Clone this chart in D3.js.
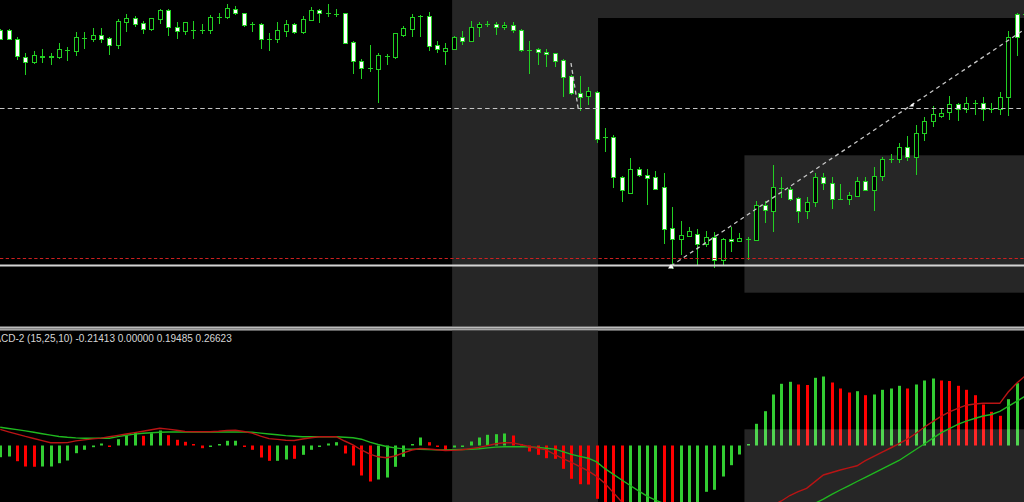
<!DOCTYPE html>
<html><head><meta charset="utf-8">
<script src="https://cdn.jsdelivr.net/npm/d3@7/dist/d3.min.js"></script>
<style>html,body{margin:0;padding:0;background:#000;overflow:hidden}</style>
</head><body>
<svg id="c" width="1024" height="502"></svg>
<script>
// ---------- DATA ----------
const opens = [110.70,110.70,110.61,110.43,110.38,110.43,110.43,110.43,110.50,110.49,
 110.625,110.61,110.65,110.62,110.55,110.78,110.82,110.77,110.71,110.81,
 110.90,110.73,110.69,110.70,110.70,110.70,110.835,110.83,110.91,110.87,
 110.76,110.76,110.61,110.61,110.69,110.76,110.68,110.80,110.90,110.87,
 110.865,110.87,110.58,110.39,110.32,110.31,110.44,110.43,110.65,110.71,
 110.84,110.84,110.55,110.49,110.51,110.63,110.59,110.73,110.76,110.76,
 110.73,110.75,110.70,110.50,110.51,110.48,110.47,110.40,110.24,110.07,
 110.04,110.08,109.63,109.63,109.23,109.07,109.31,109.25,109.23,109.13,
 108.72,108.61,108.64,108.66,108.56,108.63,108.40,108.61,108.59,108.61,
 108.60,108.95,108.89,109.12,109.11,109.02,108.89,108.98,109.23,109.17,
 109.01,109.01,109.04,109.19,109.10,109.24,109.41,109.41,109.53,109.43,
 109.67,109.79,109.84,109.88,109.96,109.91,109.97,109.97,109.91,109.91,
 110.03,110.86,110.86];
const highs = [110.71,110.71,110.63,110.47,110.49,110.51,110.47,110.57,110.53,110.68,
 110.68,110.72,110.72,110.63,110.81,110.86,110.84,110.79,110.82,110.91,
 110.91,110.78,110.78,110.79,110.76,110.85,110.87,110.96,110.94,110.87,
 110.78,110.77,110.67,110.78,110.80,110.77,110.84,110.93,110.91,110.96,
 110.91,110.87,110.59,110.41,110.55,110.47,110.46,110.67,110.74,110.86,
 110.85,110.88,110.59,110.57,110.64,110.69,110.79,110.78,110.79,110.78,
 110.78,110.78,110.71,110.59,110.52,110.51,110.47,110.41,110.25,110.24,
 110.13,110.09,109.72,109.65,109.24,109.42,109.33,109.31,109.29,109.27,
 108.93,108.79,108.73,108.71,108.69,108.68,108.62,108.73,108.67,108.63,
 108.99,108.99,109.35,109.23,109.13,109.03,109.03,109.27,109.27,109.23,
 109.16,109.08,109.23,109.23,109.33,109.43,109.46,109.57,109.64,109.75,
 109.83,109.94,109.92,110.04,109.97,110.03,110.00,110.03,109.97,110.08,
 110.69,110.87,110.88];
const lows = [110.60,110.60,110.40,110.25,110.36,110.37,110.35,110.41,110.39,110.44,
 110.51,110.58,110.57,110.45,110.51,110.68,110.73,110.66,110.69,110.76,
 110.64,110.61,110.65,110.61,110.66,110.66,110.76,110.81,110.85,110.73,
 110.68,110.51,110.49,110.57,110.63,110.66,110.66,110.79,110.77,110.83,
 110.83,110.56,110.26,110.21,110.28,109.97,110.35,110.41,110.63,110.63,
 110.63,110.49,110.47,110.35,110.50,110.55,110.59,110.63,110.73,110.65,
 110.70,110.67,110.48,110.26,110.35,110.33,110.33,110.03,110.05,109.89,
 109.95,109.57,109.48,109.12,108.98,109.07,109.23,108.95,109.10,108.56,
 108.31,108.45,108.63,108.35,108.53,108.32,108.34,108.48,108.58,108.40,
 108.59,108.77,108.68,109.02,108.99,108.77,108.81,108.93,109.10,108.91,
 109.00,108.95,109.03,109.09,108.89,109.19,109.37,109.37,109.39,109.25,
 109.59,109.73,109.82,109.80,109.79,109.87,109.85,109.79,109.87,109.85,
 109.84,110.44,110.80];
const closes = [110.61,110.61,110.44,110.38,110.45,110.44,110.44,110.51,110.50,110.63,
 110.625,110.65,110.61,110.55,110.79,110.82,110.76,110.71,110.82,110.90,
 110.73,110.69,110.78,110.70,110.70,110.83,110.835,110.92,110.87,110.75,
 110.76,110.61,110.61,110.70,110.76,110.68,110.81,110.90,110.87,110.87,
 110.865,110.57,110.39,110.32,110.32,110.45,110.44,110.67,110.72,110.83,
 110.84,110.54,110.51,110.52,110.63,110.59,110.73,110.76,110.76,110.73,
 110.75,110.70,110.50,110.50,110.48,110.46,110.39,110.23,110.07,110.03,
 110.09,109.61,109.63,109.23,109.10,109.31,109.25,109.22,109.11,108.71,
 108.61,108.65,108.69,108.56,108.63,108.40,108.61,108.59,108.62,108.61,
 108.95,108.90,109.13,109.12,109.01,108.89,108.98,109.23,109.17,109.01,
 109.01,109.05,109.19,109.10,109.24,109.41,109.41,109.53,109.43,109.67,
 109.79,109.86,109.87,109.96,109.91,109.97,109.97,109.91,109.91,110.03,
 110.63,110.63,110.86];

const macdMain = [0.0644,0.0548,0.0456,0.0364,0.028,0.0196,0.0112,0.0112,0.0116,0.0184,
 0.0224,0.0264,0.0296,0.0352,0.0404,0.046,0.0516,0.0572,0.0632,0.0688,
 0.0656,0.0612,0.056,0.0552,0.0552,0.0552,0.0572,0.06,0.0608,0.056,
 0.0496,0.0376,0.0276,0.0244,0.0212,0.02,0.026,0.0308,0.0348,0.0352,
 0.0352,0.018,0.0024,-0.018,-0.0348,-0.0452,-0.0492,-0.042,-0.0296,-0.018,
 -0.012,-0.014,-0.0168,-0.02,-0.0196,-0.0172,-0.0124,-0.0076,-0.0004,0.0072,
 0.0112,0.0112,0.0036,-0.004,-0.0108,-0.0176,-0.0352,-0.0528,-0.0676,-0.0844,
 -0.1012,-0.1232,-0.152,-0.1884,-0.226,-0.266,-0.302,-0.334,-0.362,-0.386,
 -0.402,-0.41,-0.414,-0.41,-0.398,-0.382,-0.362,-0.338,-0.314,-0.29,
 -0.27,-0.254,-0.238,-0.222,-0.2,-0.1844,-0.1712,-0.1444,-0.118,-0.108,
 -0.098,-0.0896,-0.0812,-0.0608,-0.0436,-0.0268,-0.01,0.0072,0.0256,0.048,
 0.0732,0.0956,0.1168,0.1344,0.1484,0.1612,0.166,0.1688,0.1688,0.1688,
 0.214,0.2488,0.278];
const macdSignal = [0.0728,0.068,0.0636,0.0584,0.0528,0.0472,0.0416,0.036,0.0328,0.0304,
 0.0288,0.0288,0.0288,0.0288,0.0356,0.0408,0.0456,0.0492,0.0512,0.0528,
 0.054,0.054,0.054,0.054,0.054,0.054,0.054,0.054,0.054,0.054,
 0.0532,0.0496,0.046,0.0428,0.0396,0.0372,0.0352,0.0352,0.0352,0.0352,
 0.0348,0.0332,0.0312,0.0252,0.0132,0.004,-0.004,-0.0096,-0.0136,-0.0152,
 -0.0152,-0.0164,-0.0176,-0.0176,-0.0168,-0.016,-0.0152,-0.0128,-0.0096,-0.0064,
 -0.0048,-0.0048,-0.0048,-0.0056,-0.008,-0.0108,-0.0144,-0.0248,-0.0356,-0.0436,
 -0.0508,-0.0656,-0.0928,-0.1156,-0.138,-0.16,-0.1816,-0.2024,-0.2184,-0.232,
 -0.246,-0.258,-0.27,-0.28,-0.2868,-0.294,-0.2988,-0.3004,-0.302,-0.2996,
 -0.2956,-0.29,-0.2836,-0.276,-0.266,-0.2564,-0.2448,-0.2312,-0.2144,-0.1956,
 -0.178,-0.1612,-0.144,-0.1272,-0.1104,-0.0936,-0.0768,-0.06,-0.038,-0.016,
 0.006,0.0288,0.0508,0.0676,0.0844,0.0972,0.108,0.118,0.124,0.1364,
 0.1564,0.1768,0.197];
const macdHist = [-0.0468,-0.044,-0.0628,-0.084,-0.085,-0.084,-0.084,-0.0708,-0.06,-0.0308,
 -0.0172,-0.0068,0.008,-0.0052,0.0252,0.0412,0.052,0.0388,0.0492,0.06,
 0.0412,0.0228,0.0148,0.004,-0.0108,-0.004,0.004,0.0188,0.019,-0.0052,
 -0.0172,-0.048,-0.0612,-0.0612,-0.056,-0.0532,-0.0372,-0.0172,-0.0052,0.008,
 0.0132,-0.032,-0.08,-0.12,-0.144,-0.136,-0.128,-0.0852,-0.0452,0.0052,
 0.032,0.0132,-0.0028,-0.0188,-0.008,-0.006,0.016,0.032,0.0428,0.0452,
 0.048,0.04,0.004,-0.024,-0.0372,-0.0508,-0.0532,-0.0932,-0.1332,-0.1548,
 -0.156,-0.2132,-0.248,-0.28,-0.296,-0.288,-0.28,-0.272,-0.264,-0.3,
 -0.328,-0.32,-0.312,-0.26,-0.1852,-0.1772,-0.124,-0.0788,-0.036,0.004,
 0.0868,0.1372,0.204,0.2468,0.2548,0.244,0.242,0.2708,0.276,0.252,
 0.228,0.212,0.2172,0.2012,0.204,0.2228,0.228,0.2388,0.228,0.244,
 0.26,0.268,0.26,0.258,0.2388,0.2228,0.2012,0.164,0.1348,0.1188,
 0.1852,0.2492,0.27];
// u = histogram rising (green), d = falling (red)
const histDir = "uuddduuuuu"+"uuuduuuduu"+"ddddduuuud"+"ddduuduuuu"+"udddduuuuu"+
                "uddduuuuuu"+"uddddddddd"+"ddddduuuud"+"duuuuuuuuu"+"uuuuudduud"+
                "dduduuuudu"+"uudddddddd"+"uuu";

const macdLabel = "MACD-2 (15,25,10) -0.21413 0.00000 0.19485 0.26623";
const levelDashed = 109.925, levelRed = 108.415, levelSolid = 108.345;
const trendBars = [79.86, 108.5], trendPrices = [108.34, 109.95];
const shortBars = [67.95, 68.8], shortPrices = [110.37, 109.92];
const bandStart = 53.8, bandEnd = 71.17, boxStart = 88.6;
const blackTop = 110.82, boxTop = 109.447, boxBottom = 108.073, macdBoxTop = 0.0648;

// ---------- CHART ----------
const W = 1024, H = 502, mainBot = 326.5, sepBot = 330.5;
const svg = d3.select('#c');
const x = d3.scaleLinear().domain([0, 122]).range([0.2, 1025]);
const y = d3.scaleLinear().domain([107.75, 111]).range([325, 0]);
const yM = d3.scaleLinear().domain([-0.226, 0.46]).range([502, sepBot]);
const bars = d3.range(opens.length);
const GRAY = '#262626', CG = '#22d022';

const defs = svg.append('defs');
defs.append('clipPath').attr('id','cm').append('rect').attr('x',0).attr('y',0).attr('width',W).attr('height',mainBot);
defs.append('clipPath').attr('id','cd').append('rect').attr('x',0).attr('y',sepBot).attr('width',W).attr('height',H-sepBot);

svg.append('rect').attr('width',W).attr('height',H).attr('fill','#000');

// main window
const gm = svg.append('g').attr('clip-path','url(#cm)');
gm.append('rect').attr('x',x(bandStart)).attr('y',0).attr('width',W-x(bandStart)).attr('height',mainBot).attr('fill',GRAY);
gm.append('rect').attr('x',x(bandEnd)).attr('y',y(blackTop)).attr('width',W-x(bandEnd)).attr('height',mainBot-y(blackTop)).attr('fill','#000');
gm.append('rect').attr('x',x(boxStart)).attr('y',y(boxTop)).attr('width',W-x(boxStart)).attr('height',y(boxBottom)-y(boxTop)).attr('fill',GRAY);

const cg = gm.append('g');
bars.forEach(i => {
  const cx = Math.round(x(i));
  const o = opens[i], c = closes[i];
  cg.append('line').attr('x1',cx+0.5).attr('x2',cx+0.5)
    .attr('y1',y(highs[i])).attr('y2',y(lows[i])).attr('stroke',CG).attr('stroke-width',1);
  if (Math.abs(o - c) < 0.001) {
    const yy = Math.round(y(o)) + 0.5;
    cg.append('line').attr('x1',cx-2).attr('x2',cx+3).attr('y1',yy).attr('y2',yy).attr('stroke',CG).attr('stroke-width',1);
  } else {
    const top = Math.round(y(Math.max(o,c))), bot = Math.round(y(Math.min(o,c)));
    cg.append('rect').attr('x',cx-1.5).attr('y',top+0.5).attr('width',4).attr('height',Math.max(1,bot-top))
      .attr('fill', c > o ? '#000' : '#fff').attr('stroke',CG).attr('stroke-width',1);
  }
});

// horizontal levels
gm.append('line').attr('x1',0).attr('x2',W).attr('y1',Math.round(y(levelDashed))+0.5).attr('y2',Math.round(y(levelDashed))+0.5)
  .attr('stroke','#c4c4c4').attr('stroke-width',1.2).attr('stroke-dasharray','4.5,3.2');
gm.append('line').attr('x1',0).attr('x2',W).attr('y1',Math.round(y(levelRed))+0.5).attr('y2',Math.round(y(levelRed))+0.5)
  .attr('stroke','#cc2020').attr('stroke-width',1.2).attr('stroke-dasharray','3.3,2.4');
gm.append('line').attr('x1',0).attr('x2',W).attr('y1',y(levelSolid)).attr('y2',y(levelSolid))
  .attr('stroke','#d4d4d4').attr('stroke-width',2);

// trend line (ray to the right edge)
const tx1 = x(trendBars[0]), ty1 = y(trendPrices[0]);
const slope = (y(trendPrices[1]) - ty1) / (x(trendBars[1]) - tx1);
gm.append('line').attr('x1',tx1).attr('y1',ty1).attr('x2',W).attr('y2',ty1 + slope*(W-tx1))
  .attr('stroke','#c8c8c8').attr('stroke-width',1.3).attr('stroke-dasharray','4,3.6');
gm.append('line').attr('x1',x(shortBars[0])).attr('y1',y(shortPrices[0])).attr('x2',x(shortBars[1])).attr('y2',y(shortPrices[1]))
  .attr('stroke','#c8c8c8').attr('stroke-width',1.3).attr('stroke-dasharray','4,3');
gm.append('path').attr('d',`M${tx1-3},${ty1+2.5}L${tx1},${ty1-2}L${tx1+3},${ty1+2.5}Z`).attr('fill','#fff');
const mx = x(trendBars[1]), my = y(trendPrices[1]);
gm.append('path').attr('d',`M${mx-2.5},${my+1.5}L${mx+2},${my-2}L${mx+2},${my+1.5}Z`).attr('fill','#fff');

// separator
svg.append('rect').attr('x',0).attr('y',mainBot).attr('width',W).attr('height',sepBot-mainBot).attr('fill','#bdbdbd');
svg.append('line').attr('x1',0).attr('x2',W).attr('y1',328.8).attr('y2',328.8).attr('stroke','#6c6c6c').attr('stroke-width',1);

// MACD window
const gd = svg.append('g').attr('clip-path','url(#cd)');
gd.append('rect').attr('x',x(bandStart)).attr('y',sepBot).attr('width',x(bandEnd)-x(bandStart)).attr('height',H-sepBot).attr('fill',GRAY);
const y0 = yM(0);
bars.forEach(i => {
  const v = macdHist[i];
  const yy = yM(v);
  const h = Math.max(1.5, Math.abs(yy - y0));
  gd.append('rect').attr('x',Math.round(x(i))-1).attr('width',3)
    .attr('y', v >= 0 ? y0 - h : y0).attr('height',h)
    .attr('fill', histDir[i] === 'u' ? '#32cd32' : '#ff0000');
});
gd.append('rect').attr('x',x(boxStart)).attr('y',yM(macdBoxTop)).attr('width',W-x(boxStart)).attr('height',H-yM(macdBoxTop))
  .attr('fill','#fff').attr('fill-opacity',0.15);
const line = d3.line().x((d,i)=>x(i)).y(d=>yM(d));
gd.append('path').attr('d',line(macdSignal)).attr('fill','none').attr('stroke','#1fb81f').attr('stroke-width',1.4);
gd.append('path').attr('d',line(macdMain)).attr('fill','none').attr('stroke','#b81414').attr('stroke-width',1.4);

const lab = gd.append('text').attr('y',342).attr('font-family','"Liberation Sans", Arial, sans-serif')
  .attr('font-size',10).attr('fill','#d6d6d6').text(macdLabel);
const tmp = svg.append('text').attr('font-family','"Liberation Sans", Arial, sans-serif').attr('font-size',10).text('MA');
const wMA = tmp.node().getComputedTextLength(); tmp.remove();
lab.attr('x', 1 - wMA);
</script>
</body></html>
